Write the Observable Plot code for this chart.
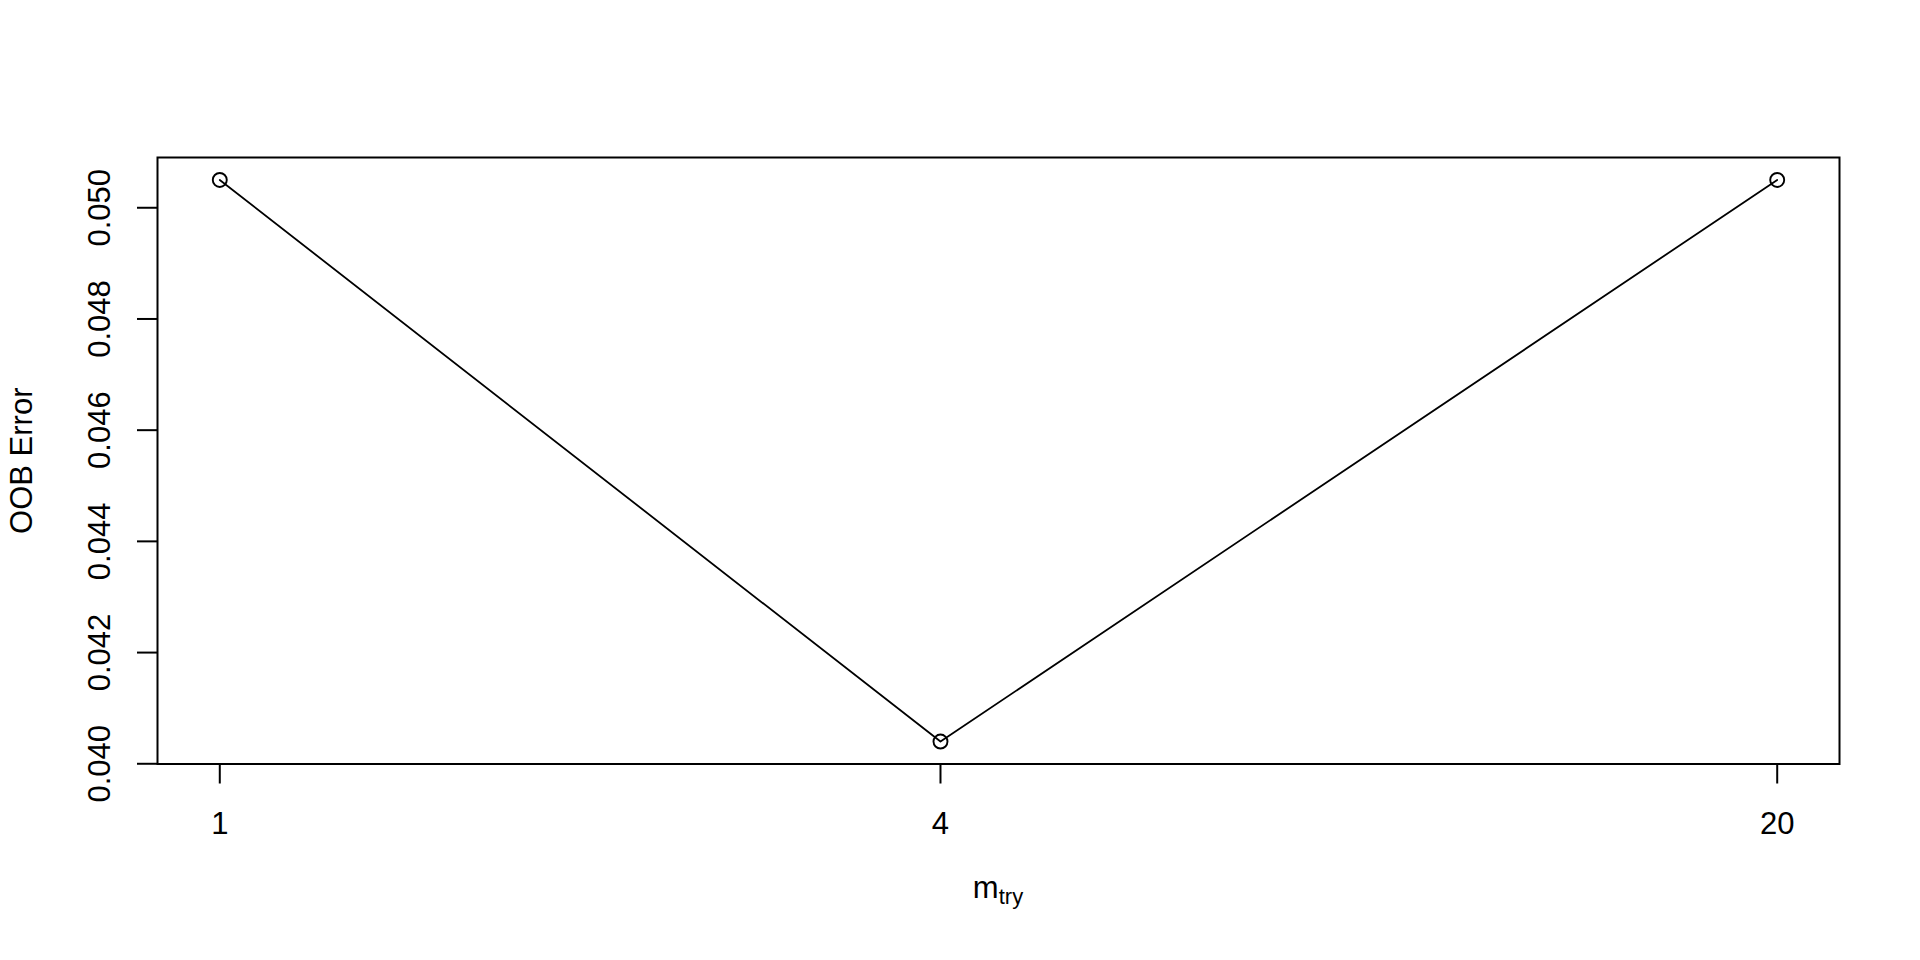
<!DOCTYPE html>
<html>
<head>
<meta charset="utf-8">
<script src="https://cdn.jsdelivr.net/npm/d3@7"></script>
<script src="https://cdn.jsdelivr.net/npm/@observablehq/plot@0.6"></script>
<style>
  html, body { margin: 0; padding: 0; background: #fff; }
  #chart svg { display: block; }
</style>
</head>
<body>
<div id="chart"></div>
<script>
// Data
const mtry = [1, 4, 20];
const oobError = [0.0505, 0.0404, 0.0505];
const xTicks = [1, 4, 20];
const yTicks = [0.040, 0.042, 0.044, 0.046, 0.048, 0.050];
const yLabel = "OOB Error";
const xLabelMain = "m";
const xLabelSub = "try";

const data = mtry.map((m, i) => ({mtry: m, oob: oobError[i]}));

const FONT = "'Liberation Sans', Arial, Helvetica, sans-serif";
const W = 1920, H = 960;
const mL = 157, mR = 81, mT = 157, mB = 196.5;

const chart = Plot.plot({
  width: W,
  height: H,
  marginLeft: mL,
  marginRight: mR,
  marginTop: mT,
  marginBottom: mB,
  style: {fontFamily: FONT, fontSize: "31px", color: "black", background: "white"},
  x: {type: "log", domain: [0.8871, 22.546]},
  y: {domain: [0.039996, 0.050904]},
  marks: [
    Plot.frame({stroke: "black", strokeWidth: 2}),
    Plot.axisX(xTicks, {
      tickSize: 20, tickPadding: 28, strokeWidth: 2,
      tickFormat: d => String(d), label: null, fontSize: 31
    }),
    Plot.axisY(yTicks, {
      tickSize: 20, tickPadding: 37, strokeWidth: 2,
      tickRotate: -90, textAnchor: "middle", lineAnchor: "middle",
      tickFormat: d3.format(".3f"), label: null, fontSize: 31
    }),
    Plot.line(data, {x: "mtry", y: "oob", stroke: "black", strokeWidth: 1.8}),
    Plot.dot(data, {x: "mtry", y: "oob", r: 7, stroke: "black", strokeWidth: 1.9, fill: "none"}),
    Plot.text([yLabel], {
      frameAnchor: "left", dx: 22 - mL, rotate: -90,
      textAnchor: "middle", lineAnchor: "middle", fontSize: 31
    })
  ]
});

document.getElementById("chart").appendChild(chart);

// x-axis label with subscript
const svg = d3.select(chart);
const cx = (mL + (W - mR)) / 2;
const t = svg.append("text")
  .attr("x", cx)
  .attr("y", 898)
  .attr("text-anchor", "middle")
  .attr("font-family", FONT)
  .attr("font-size", 31)
  .attr("fill", "black");
t.append("tspan").text(xLabelMain);
t.append("tspan").attr("font-size", 22).attr("dy", 6).text(xLabelSub);
</script>
</body>
</html>
